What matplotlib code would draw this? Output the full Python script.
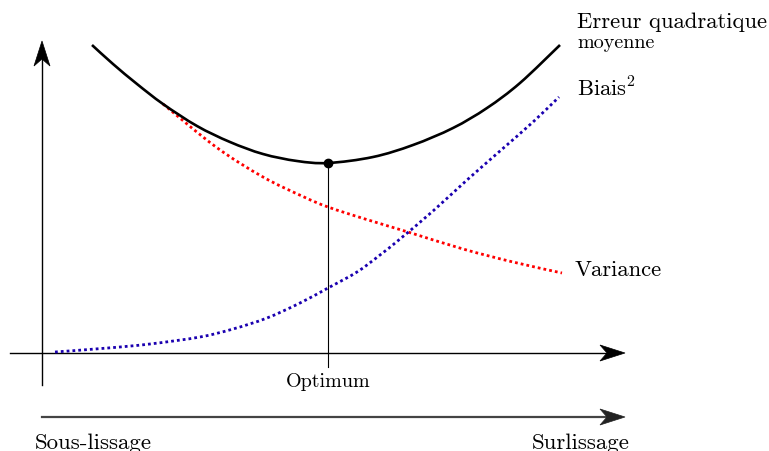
import numpy as np
import matplotlib.pyplot as plt
from matplotlib import transforms
from matplotlib.patches import Polygon, PathPatch
from matplotlib.path import Path

plt.rcParams['font.family'] = ['cmr10', 'DejaVu Serif']
plt.rcParams['mathtext.fontset'] = 'cm'
plt.rcParams['axes.unicode_minus'] = False

# curves (complexity, error)
mse_x = [1.00, 1.42, 1.90, 2.42, 3.10, 3.76, 4.42, 5.10, 5.72, 6.62, 7.42, 8.22, 8.90, 9.56, 10.36]
mse_y = [6.16, 5.78, 5.38, 4.98, 4.54, 4.22, 3.98, 3.84, 3.80, 3.92, 4.16, 4.50, 4.90, 5.40, 6.16]

var_x = [2.42, 3.48, 4.42, 5.24, 5.72, 6.46, 7.32, 8.42, 9.42, 10.40]
var_y = [4.98, 4.12, 3.52, 3.12, 2.92, 2.68, 2.42, 2.08, 1.82, 1.60]

bias_x = [0.26, 1.32, 2.16, 3.16, 3.82, 4.50, 5.16, 5.72, 6.30, 6.76, 7.16, 7.82, 8.50, 9.16, 9.82, 10.34]
bias_y = [0.02, 0.10, 0.18, 0.32, 0.48, 0.70, 1.00, 1.30, 1.62, 1.96, 2.28, 2.84, 3.46, 4.04, 4.62, 5.12]

opt_x = 5.72
opt_y = 3.80

fig = plt.figure(figsize=(7.69, 4.52), dpi=100)
ax = fig.add_axes([0, 0, 1, 1])
ax.set_xlim(-0.84, 14.54)
ax.set_ylim(-1.96, 7.08)
ax.axis('off')


def stealth(x, y, angle, color='k'):
    # tikz-like stealth arrow head, sized in inches
    verts = np.array([[0, 0], [-0.25, 0.08], [-0.18, 0], [-0.25, -0.08]])
    a = np.deg2rad(angle)
    rot = np.array([[np.cos(a), -np.sin(a)], [np.sin(a), np.cos(a)]])
    verts = verts @ rot.T
    tr = fig.dpi_scale_trans + transforms.ScaledTranslation(x, y, ax.transData)
    ax.add_patch(Polygon(verts, closed=True, facecolor=color, edgecolor=color,
                         lw=0.5, transform=tr, zorder=5))


def smooth_curve(xs, ys, **kw):
    # smooth bezier path through the read points (catmull-rom style)
    pts = np.column_stack([xs, ys])
    n = len(pts)
    verts = [pts[0]]
    codes = [Path.MOVETO]
    for i in range(n - 1):
        p0 = pts[max(i - 1, 0)]
        p1 = pts[i]
        p2 = pts[i + 1]
        p3 = pts[min(i + 2, n - 1)]
        verts += [p1 + (p2 - p0) / 6, p2 - (p3 - p1) / 6, p2]
        codes += [Path.CURVE4] * 3
    ax.add_patch(PathPatch(Path(verts, codes), facecolor='none', **kw))


# axes
ax.plot([0, 0], [-0.64, 6.1], color='k', lw=1.0)
stealth(0, 6.24, 90)
ax.plot([-0.64, 11.5], [0, 0], color='k', lw=1.0)
stealth(11.66, 0, 0)
ax.plot([0, 11.5], [-1.28, -1.28], color='#444444', lw=1.6)
stealth(11.66, -1.28, 0, color='#222222')

# curves
smooth_curve(mse_x, mse_y, edgecolor='k', lw=1.9, zorder=4)
smooth_curve(var_x, var_y, edgecolor='#ff0000', lw=2.0, linestyle=(0, (1, 1.1)), zorder=3)
smooth_curve(bias_x, bias_y, edgecolor='#1a00b0', lw=2.0, linestyle=(0, (1, 1.1)), zorder=3)

# optimum
ax.plot([opt_x, opt_x], [opt_y, -0.28], color='k', lw=0.8)
ax.plot(opt_x, opt_y, 'o', color='k', ms=6, zorder=6)

# labels
ax.text(10.7, 6.64, 'Erreur quadratique', fontsize=16.3, ha='left', va='center')
ax.text(10.7, 6.22, 'moyenne', fontsize=14.5, ha='left', va='center')
ax.text(10.7, 5.32, r'Biais$^2$', fontsize=16.3, ha='left', va='center')
ax.text(10.66, 1.68, 'Variance', fontsize=16.3, ha='left', va='center')
ax.text(opt_x, -0.56, 'Optimum', fontsize=14.5, ha='center', va='center')
ax.text(-0.14, -1.78, 'Sous-lissage', fontsize=16.5, ha='left', va='center')
ax.text(11.76, -1.78, 'Surlissage', fontsize=16.5, ha='right', va='center')

fig.savefig('out.png', dpi=100)
